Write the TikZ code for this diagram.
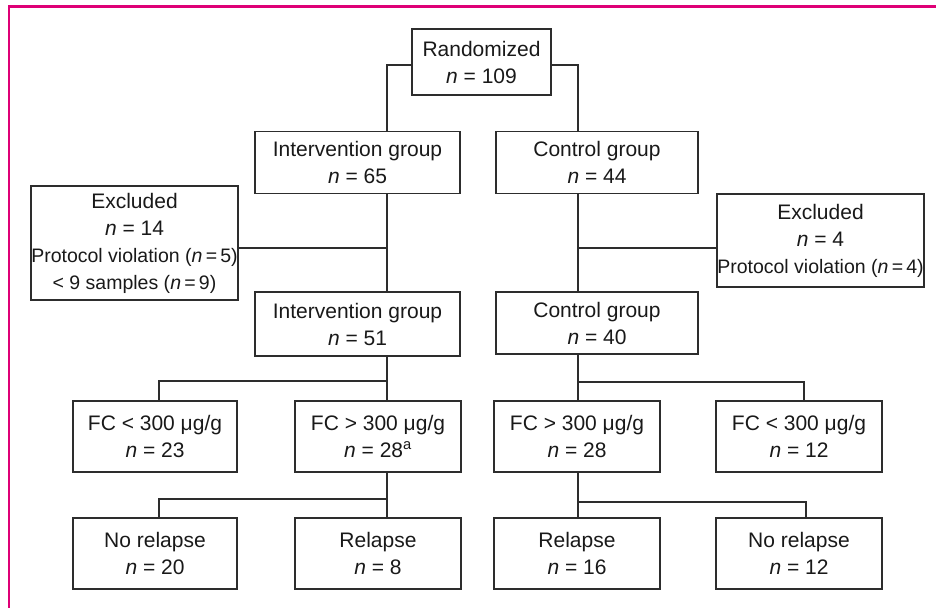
\documentclass[tikz,border=0pt]{standalone}
\usepackage{fontspec}
\setmainfont{Liberation Sans}
\usepackage{tikz}
\usetikzlibrary{positioning,calc}

\definecolor{framepink}{RGB}{222,0,118}
\definecolor{inkgray}{RGB}{45,45,45}

\begin{document}
\begin{tikzpicture}[
      x=1pt, y=-1pt,
      font={\fontsize{21}{27}\selectfont},
      box/.style={draw=inkgray, line width=1.8pt, text=black!90, align=center, inner sep=0pt, minimum width=166pt, minimum height=71pt},
      wide/.style={box, minimum width=205pt, minimum height=62pt},
      link/.style={draw=inkgray, line width=1.8pt},
      small/.style={font={\fontsize{19.5}{27}\selectfont}},
    ]
      \useasboundingbox (0,0) rectangle (936,608);
      \draw[framepink, line width=2.2pt] (936,6.5) -- (9,6.5) -- (9,608);

      \node[box, minimum width=139pt, minimum height=66pt] (rand) at (481.5,62) {Randomized\\\textit{n} = 109};
      \node[wide] (int1) at (357.5,162.5) {Intervention group\\\textit{n} = 65};
      \node[wide, minimum width=202pt] (ctl1) at (597,162.5) {Control group\\\textit{n} = 44};
      \node[box, minimum width=205pt, minimum height=114pt] (exL) at (134.5,243) {Excluded\\\textit{n} = 14\\{\fontsize{19.5}{27}\selectfont Protocol violation (\textit{n}\,=\,5)}\\{\fontsize{19.5}{27}\selectfont < 9 samples (\textit{n}\,=\,9)}};
      \node[box, minimum width=207pt, minimum height=93pt] (exR) at (820.5,240.5) {Excluded\\\textit{n} = 4\\{\fontsize{19.5}{27}\selectfont Protocol violation (\textit{n}\,=\,4)}};
      \node[wide, minimum height=64pt] (int2) at (357.5,324) {Intervention group\\\textit{n} = 51};
      \node[wide, minimum width=202pt] (ctl2) at (597,323) {Control group\\\textit{n} = 40};

      \node[box, minimum width=164pt] (fcL) at (155,436.5) {FC < 300 μg/g\\\textit{n} = 23};
      \node[box] (fcA) at (378,436.5) {FC > 300 μg/g\\\textit{n} = 28\textsuperscript{a}};
      \node[box] (fcB) at (577,436.5) {FC > 300 μg/g\\\textit{n} = 28};
      \node[box] (fcR) at (799,436.5) {FC < 300 μg/g\\\textit{n} = 12};

      \node[box, minimum width=164pt] (noL) at (155,553.5) {No relapse\\\textit{n} = 20};
      \node[box] (relA) at (378,553.5) {Relapse\\\textit{n} = 8};
      \node[box] (relB) at (577,553.5) {Relapse\\\textit{n} = 16};
      \node[box] (noR) at (799,553.5) {No relapse\\\textit{n} = 12};

      \coordinate (tl) at (387,0);
      \coordinate (tr) at (578,0);
      \coordinate (j1) at (387,381);
      \coordinate (j2) at (387,499);
      \coordinate (j3) at (578,382);
      \coordinate (j4) at (578,502);

      \draw[link] ([yshift=-3pt]rand.west) -| (tl |- int1.north);
      \draw[link] ([yshift=-3pt]rand.east) -| (tr |- ctl1.north);
      \draw[link] (tl |- int1.south) -- (tl |- int2.north);
      \draw[link] ([yshift=-5pt]exL.east) -- ([yshift=-5pt]exL.east -| tl);
      \draw[link] (tr |- ctl1.south) -- (tr |- ctl2.north);
      \draw[link] ([yshift=-7.5pt]exR.west) -- ([yshift=-7.5pt]exR.west -| tr);
      \draw[link] (tl |- int2.south) -- (tl |- fcA.north);
      \draw[link] (j1) -| ([xshift=4pt]fcL.north);
      \draw[link] (tl |- fcA.south) -- (tl |- relA.north);
      \draw[link] (j2) -| ([xshift=4pt]noL.north);
      \draw[link] (tr |- ctl2.south) -- (tr |- fcB.north);
      \draw[link] (j3) -| ([xshift=5pt]fcR.north);
      \draw[link] (tr |- fcB.south) -- (tr |- relB.north);
      \draw[link] (j4) -| ([xshift=7pt]noR.north);
    \end{tikzpicture}
\end{document}
